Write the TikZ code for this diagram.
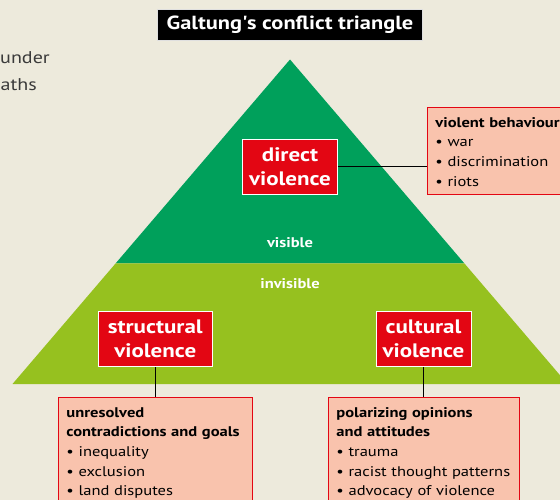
\documentclass[tikz,border=0pt]{standalone}
\usepackage{fontspec}
\setmainfont{PT Sans}[FakeStretch=1.18]
\definecolor{bgc}{HTML}{EDEADC}
\definecolor{dgreen}{HTML}{00A05B}
\definecolor{lgreen}{HTML}{96C11F}
\definecolor{vred}{HTML}{E30613}
\definecolor{salmon}{HTML}{F9C3AD}
\definecolor{graytext}{HTML}{3A3A3A}
\tikzset{
  redbox/.style={fill=vred, draw=white, line width=0.9pt, text=white, align=center,
    font=\bfseries\fontsize{19.5}{23.3}\selectfont, minimum height=55pt, inner sep=0pt},
  infobox/.style={fill=salmon, draw=vred, line width=0.9pt, align=left, anchor=north west,
    inner xsep=7.7pt, inner ysep=0pt, text=black, font=\fontsize{14}{19.7}\selectfont},
  layerlabel/.style={text=white, font=\bfseries\fontsize{14}{16}\selectfont, inner sep=0pt},
  conn/.style={draw=black, line width=0.9pt},
}
\newcommand{\topstrut}{\rule{0pt}{19.4pt}}
\begin{document}
\begin{tikzpicture}[x=1pt,y=-1pt]
\useasboundingbox (0,0) rectangle (560,500);
\clip (0,0) rectangle (560,500);
\fill[bgc] (0,0) rectangle (560,500);
% triangle layers
\fill[dgreen] (290,59.5) -- (115.7,263.3) -- (464.3,263.3) -- cycle;
\fill[lgreen] (115.7,263.3) -- (12.5,384) -- (567.5,384) -- (464.3,263.3) -- cycle;
% cut-off side text
\node[anchor=base west, inner sep=0pt, text=graytext, font=\fontsize{17}{20}\selectfont] (t1) at (0,63.3) {under};
\node[anchor=base west, inner sep=0pt, text=graytext, font=\fontsize{17}{20}\selectfont] (t2) at (0.5,90.7) {aths};
% title
\node[fill=black, draw=white!75!gray, line width=0.6pt, text=white, minimum width=265.4pt, minimum height=30.7pt,
  inner sep=0pt, font=\bfseries\fontsize{19}{20}\selectfont] (title) at (290,24.65) {Galtung\textquotesingle s conflict triangle};
% layer labels
\node[layerlabel] (vis) at (290,243) {visible};
\node[layerlabel] (invis) at (290,284) {invisible};
% red boxes
\node[redbox, minimum width=94.6pt] (direct) at (290,166.8) {direct\\violence};
\node[redbox, minimum width=114pt, minimum height=55.7pt] (struct) at (155.3,338.9) {structural\\violence};
\node[redbox, minimum width=95pt, minimum height=55.7pt] (cult) at (423.5,338.9) {cultural\\violence};
% info boxes
\node[infobox, text width=150pt] (beh) at (427.3,107.3)
  {\topstrut\textbf{violent behaviour}\\• war\\• discrimination\\• riots\rule[-8.6pt]{0pt}{8.6pt}};
\node[infobox, text width=178pt] (sinfo) at (58.3,397.3)
  {\topstrut\textbf{unresolved}\\\textbf{contradictions and goals}\\• inequality\\• exclusion\\• land disputes\rule[-20pt]{0pt}{20pt}};
\node[infobox, text width=175pt] (cinfo) at (328.3,397.3)
  {\topstrut\textbf{polarizing opinions}\\\textbf{and attitudes}\\• trauma\\• racist thought patterns\\• advocacy of violence\rule[-20pt]{0pt}{20pt}};
% connectors
\draw[conn] (direct.east) -- (direct.east -| beh.west);
\draw[conn] (struct.south) -- (struct.south |- sinfo.north);
\draw[conn] (cult.south) -- (cult.south |- cinfo.north);
\end{tikzpicture}
\end{document}
